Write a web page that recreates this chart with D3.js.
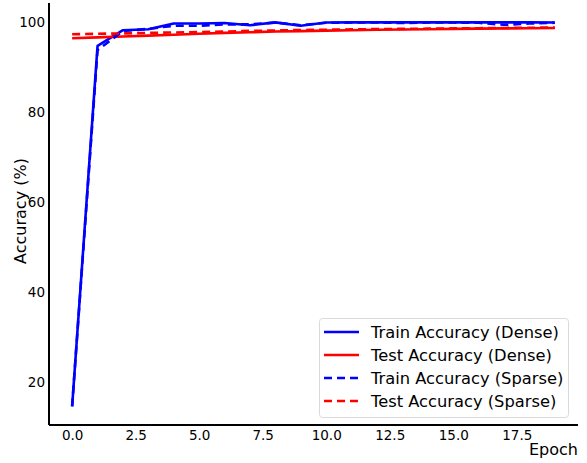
<!DOCTYPE html>
<html>
<head>
<meta charset="utf-8">
<script src="https://cdn.jsdelivr.net/npm/d3@7"></script>
<style>
  html, body { margin: 0; padding: 0; background: #fff; }
  svg { display: block; font-family: "DejaVu Sans", sans-serif; }
</style>
</head>
<body>
<svg id="chart" width="587" height="463"></svg>
<script>
const epochs = d3.range(0, 20);
const trainDense  = [14.6, 94.7, 98.2, 98.4, 99.7, 99.7, 99.8, 99.3, 99.95, 99.2, 99.9, 99.95, 99.95, 99.95, 99.95, 99.95, 99.95, 99.95, 99.95, 99.9];
const testDense   = [96.4, 96.6, 96.8, 97.0, 97.2, 97.4, 97.6, 97.75, 97.9, 98.0, 98.1, 98.2, 98.3, 98.35, 98.4, 98.5, 98.55, 98.6, 98.65, 98.7];
const trainSparse = [14.6, 93.8, 98.0, 98.5, 99.2, 99.2, 99.5, 99.5, 99.9, 99.3, 99.85, 99.9, 99.9, 99.8, 99.9, 99.9, 99.85, 99.4, 99.7, 99.85];
const testSparse  = [97.3, 97.4, 97.5, 97.6, 97.7, 97.8, 97.9, 98.05, 98.15, 98.25, 98.3, 98.4, 98.45, 98.5, 98.55, 98.6, 98.65, 98.7, 98.75, 98.8];
const xTicks = [0, 2.5, 5, 7.5, 10, 12.5, 15, 17.5];
const yTicks = [20, 40, 60, 80, 100];
const seriesNames = ["Train Accuracy (Dense)", "Test Accuracy (Dense)", "Train Accuracy (Sparse)", "Test Accuracy (Sparse)"];

const series = [
  { name: seriesNames[0], values: trainDense,  color: "#0000ff", dash: null },
  { name: seriesNames[1], values: testDense,   color: "#ff0000", dash: null },
  { name: seriesNames[2], values: trainSparse, color: "#0000ff", dash: "8,5" },
  { name: seriesNames[3], values: testSparse,  color: "#ff0000", dash: "8,5" }
];

const svg = d3.select("#chart");
const x = d3.scaleLinear().domain([-0.95, 19.95]).range([48, 579]);
const y = d3.scaleLinear().domain([10.45, 104.25]).range([425, 3]);

// lines
const line = d3.line().x((d, i) => x(epochs[i])).y(d => y(d));
svg.append("g").selectAll("path").data(series).join("path")
  .attr("d", d => line(d.values))
  .attr("fill", "none")
  .attr("stroke", d => d.color)
  .attr("stroke-width", 2.6)
  .attr("stroke-dasharray", d => d.dash)
  .attr("stroke-linejoin", "round");

// axes
const xAxis = svg.append("g").attr("transform", "translate(0,425)")
  .call(d3.axisBottom(x).tickValues(xTicks).tickFormat(d3.format(".1f")).tickSize(0).tickPadding(5));
const yAxis = svg.append("g").attr("transform", "translate(49,0)")
  .call(d3.axisLeft(y).tickValues(yTicks).tickFormat(d3.format("d")).tickSize(0).tickPadding(4));
[xAxis, yAxis].forEach(a => {
  a.select(".domain").attr("stroke", "#000").attr("stroke-width", 2);
  a.selectAll("text").attr("font-size", 13.5).attr("fill", "#000").attr("font-family", "DejaVu Sans");
});
xAxis.select(".domain").attr("d", "M49,0H578");
yAxis.select(".domain").attr("d", "M0,3V425");

// axis labels
svg.append("text").attr("x", 578).attr("y", 455).attr("text-anchor", "end")
  .attr("font-size", 16).text("Epoch");
svg.append("text").attr("transform", "translate(26,211) rotate(-90)").attr("text-anchor", "middle")
  .attr("font-size", 16).text("Accuracy (%)");

// legend
const lg = svg.append("g");
lg.append("rect").attr("x", 319.5).attr("y", 318.5).attr("width", 249).attr("height", 99)
  .attr("rx", 3).attr("fill", "#fff").attr("fill-opacity", 0.8).attr("stroke", "#d9d9d9").attr("stroke-width", 1);
const rows = lg.selectAll("g.row").data(series).join("g").attr("class", "row")
  .attr("transform", (d, i) => `translate(0,${332 + i * 23})`);
rows.append("line").attr("x1", 324).attr("x2", 359).attr("y1", 0).attr("y2", 0)
  .attr("stroke", d => d.color).attr("stroke-width", 2.6).attr("stroke-dasharray", d => d.dash);
rows.append("text").attr("x", 371).attr("y", 0).attr("dy", "0.35em")
  .attr("font-size", 16.3).text(d => d.name);
</script>
</body>
</html>
